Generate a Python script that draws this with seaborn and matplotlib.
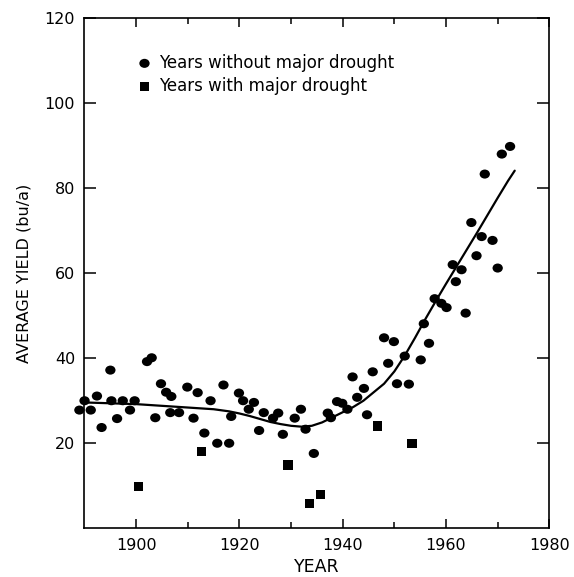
import matplotlib
matplotlib.use("Agg")
import matplotlib.pyplot as plt
import seaborn as sns
from matplotlib.path import Path
from matplotlib.markers import MarkerStyle
from matplotlib.transforms import Affine2D

# Average yield per year, split by drought status
normal_years = [1889.0, 1890.0, 1891.2, 1892.4, 1893.3, 1895.0, 1895.2, 1896.3, 1897.4,
                1898.8, 1899.7, 1902.1, 1903.0, 1903.7, 1904.8, 1905.8, 1906.8, 1906.6,
                1908.3, 1909.9, 1911.1, 1911.9, 1913.2, 1914.4, 1915.7, 1916.9, 1918.0,
                1918.4, 1919.9, 1920.7, 1921.8, 1922.8, 1923.8, 1924.7, 1926.5, 1927.5,
                1928.4, 1930.7, 1931.9, 1932.8, 1934.4, 1937.1, 1937.7, 1938.9, 1939.9,
                1940.9, 1941.9, 1942.8, 1944.1, 1944.7, 1945.8, 1948.0, 1948.8, 1949.9,
                1950.5, 1952.0, 1952.8, 1955.1, 1955.7, 1956.7, 1957.8, 1959.1, 1960.1,
                1961.3, 1961.9, 1963.0, 1963.8, 1964.9, 1965.9, 1966.9, 1967.5, 1969.0,
                1970.0, 1970.8, 1972.4]
normal_yield = [27.8, 30.0, 27.8, 31.1, 23.7, 37.2, 30.0, 25.8, 30.0,
                27.8, 30.0, 39.2, 40.1, 26.0, 34.0, 32.0, 31.0, 27.2,
                27.2, 33.2, 25.9, 31.9, 22.4, 30.0, 20.0, 33.7, 20.0,
                26.3, 31.8, 30.0, 28.0, 29.6, 23.0, 27.2, 25.9, 27.1,
                22.1, 25.9, 28.0, 23.3, 17.6, 27.1, 26.0, 29.8, 29.4,
                28.0, 35.6, 30.8, 32.9, 26.7, 36.8, 44.8, 38.8, 43.9,
                34.0, 40.5, 33.9, 39.6, 48.1, 43.5, 54.0, 52.9, 51.9,
                62.0, 58.0, 60.8, 50.6, 71.9, 64.1, 68.6, 83.3, 67.7,
                61.2, 88.0, 89.8]

drought_years = [1900.4, 1912.6, 1929.4, 1933.6, 1935.7, 1946.7, 1953.4]
drought_yield = [9.8, 18.0, 14.9, 5.9, 8.0, 24.1, 20.0]

# Fitted trend curve
trend_years = [1889.8, 1895, 1900, 1905, 1910, 1915, 1918, 1920, 1922, 1924, 1926,
               1928, 1930, 1932, 1934, 1936, 1938, 1940, 1942, 1944, 1946, 1948,
               1950, 1952, 1954, 1956, 1958, 1960, 1962, 1964, 1966, 1968, 1970,
               1972, 1973.3]
trend_yield = [29.6, 29.4, 29.2, 28.8, 28.4, 28.0, 27.5, 27.0, 26.4, 25.7, 25.0,
               24.5, 24.1, 23.9, 24.1, 24.9, 26.1, 27.3, 28.5, 30.0, 32.0, 34.0,
               36.9, 40.6, 44.8, 49.2, 53.4, 57.5, 61.5, 65.5, 69.5, 73.6, 77.7,
               81.7, 84.1]

x_major = [1900, 1920, 1940, 1960, 1980]
x_minor = [1910, 1930, 1950, 1970]
y_major = [20, 40, 60, 80, 100, 120]

legend_labels = ["Years without major drought", "Years with major drought"]

sns.set_theme(style="ticks")
plt.rcParams["font.family"] = ["DejaVu Sans"]
plt.rcParams["text.color"] = "black"
plt.rcParams["axes.labelcolor"] = "black"

fig = plt.figure(figsize=(5.74, 5.77), dpi=100)
ax = fig.add_axes([0.1455, 0.0844, 0.8115, 0.8844])

# slightly flattened round marker
oval = MarkerStyle(Path.unit_circle().transformed(Affine2D().scale(1.0, 0.88)))

sns.lineplot(x=trend_years, y=trend_yield, ax=ax, color="black", linewidth=1.6,
             estimator=None, sort=False)
sns.scatterplot(x=normal_years, y=normal_yield, ax=ax, marker=oval, s=55,
                color="black", edgecolor="none", linewidth=0, clip_on=False,
                label=legend_labels[0])
sns.scatterplot(x=drought_years, y=drought_yield, ax=ax, marker="s", s=46,
                color="black", edgecolor="none", linewidth=0, clip_on=False,
                label=legend_labels[1])

ax.set_xlim(1889.8, 1980)
ax.set_ylim(0, 120)
ax.set_xticks(x_major)
ax.set_xticks(x_minor, minor=True)
ax.set_yticks(y_major)

for side in ["left", "right", "top", "bottom"]:
    ax.spines[side].set_visible(True)
    ax.spines[side].set_linewidth(1.2)
    ax.spines[side].set_color("black")

ax.tick_params(axis="both", which="both", direction="in", top=True, right=True,
               colors="black", width=1.1, labelsize=11.5)
ax.tick_params(axis="x", which="major", length=6.5, pad=7)
ax.tick_params(axis="x", which="minor", length=4)
ax.tick_params(axis="y", which="major", length=8.6, pad=6)

ax.set_xlabel("YEAR", fontsize=12.5, color="black")
ax.set_ylabel("AVERAGE YIELD (bu/a)", fontsize=11.5, color="black")
ax.xaxis.set_label_coords(0.5, -0.058)
ax.yaxis.set_label_coords(-0.112, 0.5)

ax.legend(loc="upper left", bbox_to_anchor=(0.113, 0.93), frameon=False,
          fontsize=12, handlelength=1.0, handletextpad=0.4, borderpad=0,
          borderaxespad=0, labelspacing=0.3)

fig.savefig("out.png", dpi=100, facecolor="white")
